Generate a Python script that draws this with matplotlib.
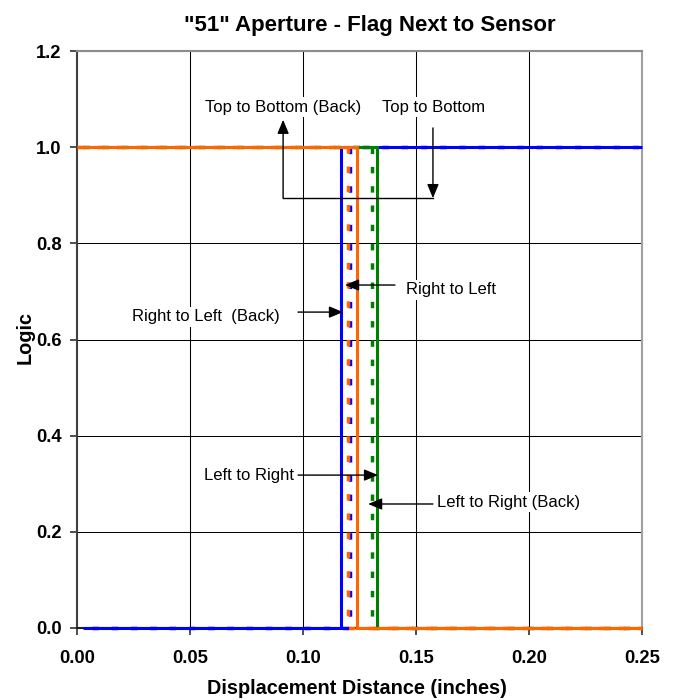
import matplotlib
matplotlib.use("Agg")
import matplotlib.pyplot as plt
import numpy as np

# sensor logic vs. flag displacement, one step per sweep direction
series_names = ["Right to Left", "Right to Left (Back)",
                "Left to Right", "Left to Right (Back)",
                "Top to Bottom", "Top to Bottom (Back)"]
switch_inches = [0.1169, 0.1206, 0.1328, 0.1306, 0.1238, 0.1198]
logic_before = [0, 0, 1, 1, 1, 1]
logic_after = [1, 1, 0, 0, 0, 0]
sweep_start = [0.0025, 0.0025, 0.0, 0.0, 0.0, 0.0]
sweep_end = [0.25, 0.25, 0.25, 0.25, 0.25, 0.25]

x_ticks = [0.00, 0.05, 0.10, 0.15, 0.20, 0.25]
y_ticks = [0.0, 0.2, 0.4, 0.6, 0.8, 1.0, 1.2]

DASH_ON, DASH_OFF = 1.85, 3.7
styles = {
    "Right to Left": dict(color="#0000FF", lw=2.2, dashed=False, zorder=4),
    "Right to Left (Back)": dict(color="#0000FF", lw=2.5, dashed=True, zorder=3),
    "Left to Right": dict(color="#008000", lw=2.2, dashed=False, zorder=6),
    "Left to Right (Back)": dict(color="#008000", lw=2.5, dashed=True, zorder=5),
    "Top to Bottom": dict(color="#FF6600", lw=2.2, dashed=False, zorder=8),
    "Top to Bottom (Back)": dict(color="#FF6600", lw=2.5, dashed=True, zorder=7),
}

plt.rcParams['font.family'] = ['Liberation Sans', 'DejaVu Sans']

DPI = 100
fig = plt.figure(figsize=(6.75, 7), dpi=DPI)
ax = fig.add_axes([77 / 675, 1 - 628 / 700, 565 / 675, 577 / 700])
ax.set_xlim(0, 0.25)
ax.set_ylim(0, 1.2)


def dash_offset(xs, ys, lw, corner, rising):
    # line the dashes up on every vertical, counted from the top corner
    pts = ax.transData.transform(np.column_stack([xs, ys]))
    seg = np.hypot(*np.diff(pts, axis=0).T)
    length = seg[:corner].sum() * 72.0 / DPI / lw
    period = DASH_ON + DASH_OFF
    target = DASH_ON if rising else 0.0
    return (target - length) % period


for name, sx, lo, hi, x0, x1 in zip(series_names, switch_inches, logic_before,
                                    logic_after, sweep_start, sweep_end):
    xs = [x0, sx, sx, x1]
    ys = [lo, lo, hi, hi]
    st = styles[name]
    if st["dashed"]:
        rising = hi > lo
        off = dash_offset(xs, ys, st["lw"], 2 if rising else 1, rising)
        ls = (off, (DASH_ON, DASH_OFF))
    else:
        ls = "-"
    ax.plot(xs, ys, color=st["color"], lw=st["lw"], linestyle=ls,
            zorder=st["zorder"], solid_capstyle="butt", dash_capstyle="butt",
            solid_joinstyle="miter", clip_on=False, label=name)

ax.set_xticks(x_ticks)
ax.set_yticks(y_ticks)
ax.set_xticklabels(["%.2f" % v for v in x_ticks])
ax.set_yticklabels(["%.1f" % v for v in y_ticks])
ax.grid(True, color="black", lw=0.75, zorder=1)
ax.set_axisbelow(True)

ax.tick_params(axis="both", direction="out", length=5, width=1.2, colors="#303030",
               labelsize=13.2, labelcolor="black")
ax.tick_params(axis="x", pad=11)
ax.tick_params(axis="y", pad=6)
for lab in ax.get_xticklabels() + ax.get_yticklabels():
    lab.set_fontweight("bold")

ax.spines["left"].set_color("#404040")
ax.spines["bottom"].set_color("#202020")
ax.spines["top"].set_color("#8c8c8c")
ax.spines["right"].set_color("#a0a0a0")
for sp in ax.spines.values():
    sp.set_linewidth(1.5)

fig.text(370 / 675, 1 - 26 / 700, '"51" Aperture - Flag Next to Sensor',
         ha="center", va="center", fontsize=16, fontweight="bold")
fig.text(357 / 675, 1 - 688 / 700, "Displacement Distance (inches)",
         ha="center", va="center", fontsize=14.3, fontweight="bold")
fig.text(25 / 675, 1 - 338 / 700, "Logic", rotation=90,
         ha="center", va="center", fontsize=14.3, fontweight="bold")

box = dict(facecolor="white", edgecolor="none", pad=2)
arrow = dict(arrowstyle="-|>,head_length=0.6,head_width=0.25", color="black",
             lw=1.0, mutation_scale=14, shrinkA=0, shrinkB=0)

# labels
ax.text(0.0914, 1.0835, "Top to Bottom (Back)", ha="center", va="center",
        fontsize=12, bbox=box, zorder=10)
ax.text(0.135, 1.0835, "Top to Bottom", ha="left", va="center",
        fontsize=12, bbox=box, zorder=10)
ax.text(0.1456, 0.703, "Right to Left", ha="left", va="center",
        fontsize=12, bbox=box, zorder=10)
ax.text(0.0243, 0.6468, "Right to Left  (Back)", ha="left", va="center",
        fontsize=12, bbox=box, zorder=10)
ax.text(0.0562, 0.318, "Left to Right", ha="left", va="center",
        fontsize=12, bbox=box, zorder=10)
ax.text(0.1593, 0.262, "Left to Right (Back)", ha="left", va="center",
        fontsize=12, bbox=box, zorder=10)

# arrows
ax.plot([0.0912, 0.1575], [0.894, 0.894], color="black", lw=1.0, zorder=10)
ax.annotate("", xy=(0.0912, 1.057), xytext=(0.0912, 0.894), arrowprops=arrow, zorder=10)
ax.annotate("", xy=(0.1575, 0.894), xytext=(0.1575, 1.040), arrowprops=arrow, zorder=10)
ax.annotate("", xy=(0.1186, 0.7133), xytext=(0.1407, 0.7133), arrowprops=arrow, zorder=10)
ax.annotate("", xy=(0.1177, 0.657), xytext=(0.0978, 0.657), arrowprops=arrow, zorder=10)
ax.annotate("", xy=(0.1332, 0.318), xytext=(0.0978, 0.318), arrowprops=arrow, zorder=10)
ax.annotate("", xy=(0.1288, 0.2579), xytext=(0.1575, 0.2579), arrowprops=arrow, zorder=10)

fig.savefig("out.png", dpi=DPI)
